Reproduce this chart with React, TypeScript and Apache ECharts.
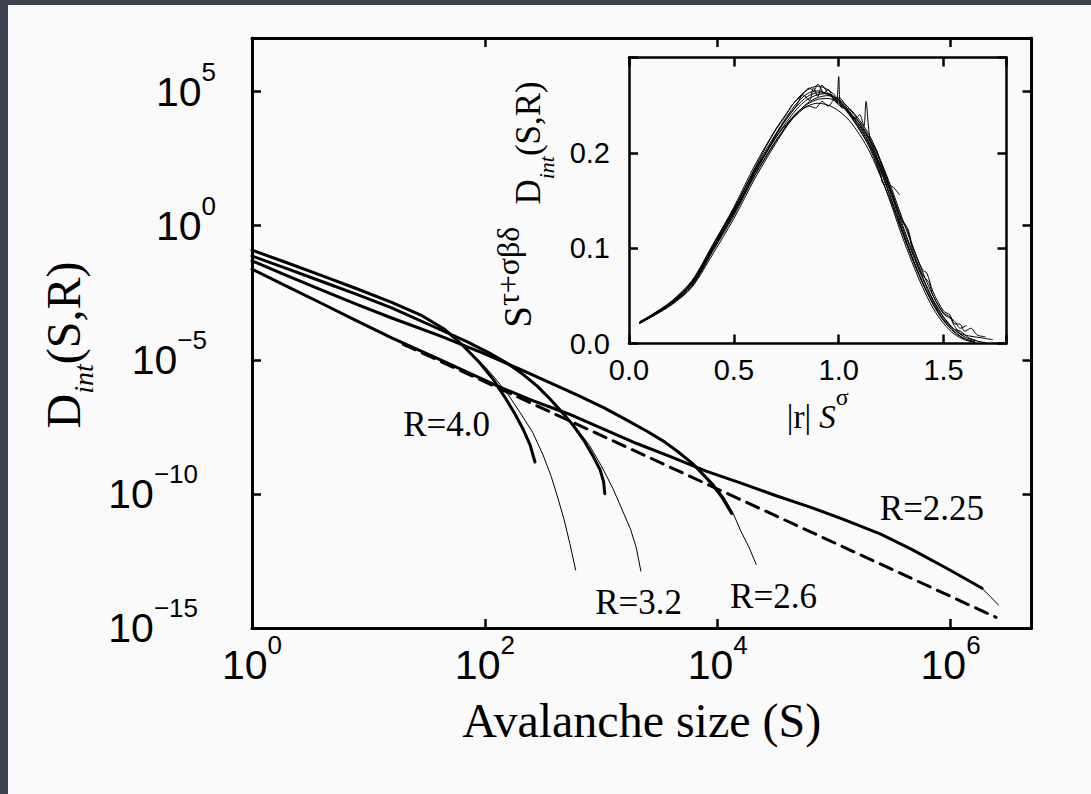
import React, { useEffect, useRef } from 'react';
import * as echarts from 'echarts';

const SERIF = '"Liberation Serif", "Times New Roman", Times, serif';
const SANS = '"Liberation Sans", Arial, Helvetica, sans-serif';

// ---------- main plot: [log10 S, log10 D_int] ----------
const r40Thick: number[][] = [[0, -0.91], [0.3, -1.38], [0.6, -1.86], [0.9, -2.35], [1.2, -2.86], [1.45, -3.33], [1.65, -3.85], [1.8, -4.42], [1.95, -5.08], [2.07, -5.72], [2.17, -6.38], [2.26, -7.03], [2.33, -7.6], [2.39, -8.19], [2.43, -8.81]];
const r40Thin: number[][] = [[1.9, -4.85], [2.0, -5.25], [2.1, -5.75], [2.2, -6.3], [2.3, -6.95], [2.41, -7.7], [2.5, -8.55], [2.57, -9.35], [2.62, -10.05], [2.68, -10.95], [2.73, -11.85], [2.78, -12.84]];
const r32Thick: number[][] = [[0, -1.13], [0.3, -1.6], [0.6, -2.08], [0.9, -2.56], [1.2, -3.06], [1.61, -3.86], [1.85, -4.33], [2.04, -4.75], [2.2, -5.15], [2.33, -5.55], [2.45, -5.98], [2.56, -6.46], [2.66, -6.95], [2.76, -7.45], [2.85, -8.0], [2.93, -8.6], [2.99, -9.1], [3.02, -9.55], [3.03, -9.99]];
const r32Thin: number[][] = [[2.4, -5.8], [2.6, -6.6], [2.76, -7.4], [2.9, -8.2], [3.0, -8.95], [3.1, -9.8], [3.18, -10.6], [3.25, -11.3], [3.3, -12.0], [3.34, -12.88]];
const r26Thick: number[][] = [[0, -1.31], [0.3, -1.86], [0.6, -2.4], [0.9, -2.93], [1.2, -3.44], [1.61, -4.1], [2.0, -4.78], [2.3, -5.35], [2.6, -5.93], [2.8, -6.33], [3.02, -6.78], [3.2, -7.2], [3.4, -7.68], [3.54, -8.05], [3.65, -8.4], [3.78, -8.85], [3.88, -9.3], [3.96, -9.68], [4.04, -10.15], [4.12, -10.73]];
const r26Thin: number[][] = [[3.8, -8.9], [3.95, -9.55], [4.05, -10.1], [4.13, -10.7], [4.2, -11.4], [4.27, -12.0], [4.33, -12.63]];
const r225Thick: number[][] = [[0, -1.62], [0.3, -2.26], [0.6, -2.9], [0.9, -3.55], [1.2, -4.18], [1.61, -4.98], [1.9, -5.56], [2.13, -6.02], [2.4, -6.5], [2.72, -7.02], [3.0, -7.55], [3.31, -8.13], [3.6, -8.62], [3.9, -9.15], [4.2, -9.6], [4.49, -10.05], [4.8, -10.5], [5.08, -10.95], [5.4, -11.5], [5.67, -12.08], [5.97, -12.78], [6.15, -13.22], [6.27, -13.52]];
const r225Thin: number[][] = [[6.27, -13.52], [6.34, -13.82], [6.41, -14.14]];
const powerLaw: number[][] = [[1.3, -4.42], [6.39, -14.6]];

const rLabelNames = ['R=4.0', 'R=3.2', 'R=2.6', 'R=2.25'];
const rLabelLogS = [1.672, 3.32, 4.479, 5.84];
const rLabelLogD = [-7.4, -14.05, -13.83, -10.54];

const mainXTicks = [0, 2, 4, 6];
const mainYTicks = [-15, -10, -5, 0, 5];
const insetXTicks = [0, 0.5, 1, 1.5];
const insetYTicks = [0, 0.1, 0.2];

// ---------- inset: [|r| S^sigma, S^(tau+sigma beta delta) D_int] ----------
const inset1: number[][] = [[0.05, 0.022], [0.1, 0.029], [0.2, 0.044], [0.3, 0.066], [0.4, 0.104], [0.5, 0.143], [0.6, 0.187], [0.7, 0.225], [0.75, 0.241], [0.8, 0.256], [0.85, 0.266], [0.9, 0.27], [0.95, 0.266], [1.0, 0.256], [1.05, 0.241], [1.1, 0.224], [1.15, 0.204], [1.2, 0.176], [1.25, 0.146], [1.3, 0.114], [1.35, 0.085], [1.4, 0.059], [1.45, 0.037], [1.5, 0.021], [1.55, 0.01], [1.6, 0.004], [1.65, 0.001]];
const inset2: number[][] = [[0.05, 0.021], [0.1, 0.027], [0.2, 0.041], [0.3, 0.06], [0.4, 0.097], [0.5, 0.134], [0.6, 0.176], [0.7, 0.212], [0.75, 0.228], [0.8, 0.242], [0.85, 0.251], [0.9, 0.256], [0.95, 0.257], [1.0, 0.252], [1.05, 0.242], [1.1, 0.229], [1.15, 0.212], [1.2, 0.186], [1.25, 0.158], [1.3, 0.127], [1.35, 0.097], [1.4, 0.07], [1.45, 0.046], [1.5, 0.028], [1.55, 0.015], [1.6, 0.007], [1.65, 0.003], [1.7, 0.001]];
const inset3: number[][] = [[0.05, 0.022], [0.1, 0.028], [0.15, 0.035], [0.2, 0.043], [0.25, 0.052], [0.3, 0.063], [0.35, 0.079], [0.4, 0.101], [0.45, 0.118], [0.5, 0.139], [0.55, 0.158], [0.6, 0.181], [0.65, 0.199], [0.7, 0.219], [0.75, 0.236], [0.8, 0.25], [0.83, 0.261], [0.86, 0.255], [0.88, 0.268], [0.9, 0.259], [0.92, 0.271], [0.95, 0.262], [0.98, 0.256], [0.99, 0.252], [1.0, 0.28], [1.01, 0.248], [1.05, 0.246], [1.1, 0.231], [1.15, 0.212], [1.2, 0.185], [1.25, 0.156], [1.3, 0.124], [1.35, 0.095], [1.4, 0.068], [1.45, 0.045], [1.5, 0.027], [1.55, 0.015], [1.6, 0.007]];
const inset4: number[][] = [[0.05, 0.021], [0.1, 0.027], [0.2, 0.04], [0.3, 0.059], [0.4, 0.094], [0.5, 0.131], [0.6, 0.173], [0.7, 0.21], [0.75, 0.227], [0.8, 0.241], [0.85, 0.252], [0.9, 0.258], [0.95, 0.26], [1.0, 0.256], [1.05, 0.247], [1.1, 0.234], [1.15, 0.217], [1.2, 0.192], [1.25, 0.164], [1.3, 0.133], [1.35, 0.103], [1.4, 0.075], [1.45, 0.05], [1.5, 0.031], [1.55, 0.024], [1.58, 0.016], [1.61, 0.019]];
const inset5: number[][] = [[0.05, 0.022], [0.1, 0.028], [0.2, 0.042], [0.3, 0.062], [0.4, 0.099], [0.5, 0.137], [0.6, 0.179], [0.7, 0.216], [0.75, 0.232], [0.8, 0.246], [0.85, 0.256], [0.9, 0.261], [0.95, 0.262], [1.0, 0.255], [1.05, 0.244], [1.08, 0.236], [1.1, 0.24], [1.12, 0.228], [1.13, 0.254], [1.15, 0.214], [1.18, 0.203], [1.2, 0.189], [1.25, 0.16], [1.3, 0.129], [1.33, 0.118], [1.35, 0.1], [1.4, 0.072], [1.43, 0.064], [1.45, 0.05], [1.5, 0.032], [1.53, 0.028], [1.55, 0.019], [1.58, 0.011], [1.62, 0.008], [1.68, 0.006], [1.735, 0.004]];
const inset6: number[][] = [[0.05, 0.022], [0.1, 0.028], [0.2, 0.043], [0.3, 0.064], [0.4, 0.102], [0.5, 0.14], [0.6, 0.183], [0.7, 0.22], [0.75, 0.237], [0.8, 0.252], [0.85, 0.262], [0.9, 0.265], [0.95, 0.261], [1.0, 0.253], [1.05, 0.24], [1.1, 0.224], [1.15, 0.206], [1.2, 0.178], [1.21, 0.168], [1.24, 0.166], [1.26, 0.164], [1.29, 0.156]];
const inset7: number[][] = [[0.05, 0.021], [0.1, 0.028], [0.2, 0.043], [0.3, 0.065], [0.4, 0.103], [0.5, 0.141], [0.6, 0.182], [0.7, 0.216], [0.75, 0.23], [0.8, 0.242], [0.85, 0.249], [0.9, 0.252], [0.95, 0.25], [1.0, 0.244], [1.05, 0.234], [1.1, 0.219], [1.15, 0.2], [1.2, 0.175], [1.25, 0.148], [1.3, 0.118], [1.35, 0.089], [1.4, 0.063], [1.45, 0.041], [1.5, 0.024], [1.55, 0.012], [1.6, 0.005], [1.65, 0.002]];
const inset8: number[][] = [[0.05, 0.023], [0.1, 0.029], [0.2, 0.043], [0.3, 0.064], [0.35, 0.082], [0.4, 0.1], [0.45, 0.121], [0.5, 0.141], [0.55, 0.162], [0.6, 0.184], [0.65, 0.205], [0.7, 0.224], [0.75, 0.24], [0.78, 0.251], [0.8, 0.255], [0.83, 0.262], [0.86, 0.268], [0.88, 0.265], [0.9, 0.272], [0.93, 0.263], [0.95, 0.266], [0.98, 0.255], [1.0, 0.258], [1.05, 0.243], [1.1, 0.228], [1.15, 0.209], [1.2, 0.183], [1.25, 0.152], [1.3, 0.121], [1.35, 0.091], [1.4, 0.064], [1.45, 0.043], [1.5, 0.025], [1.55, 0.015], [1.58, 0.013], [1.62, 0.006], [1.66, 0.003]];
const inset9: number[][] = [[0.05, 0.022], [0.1, 0.027], [0.2, 0.041], [0.3, 0.061], [0.4, 0.098], [0.5, 0.136], [0.6, 0.177], [0.7, 0.213], [0.73, 0.222], [0.76, 0.232], [0.8, 0.24], [0.83, 0.246], [0.86, 0.249], [0.89, 0.247], [0.92, 0.254], [0.95, 0.249], [0.98, 0.256], [1.0, 0.25], [1.03, 0.247], [1.06, 0.24], [1.1, 0.232], [1.15, 0.214], [1.2, 0.19], [1.25, 0.161], [1.28, 0.142], [1.3, 0.131], [1.33, 0.12], [1.35, 0.104], [1.4, 0.077], [1.42, 0.074], [1.45, 0.054], [1.5, 0.034], [1.53, 0.03], [1.55, 0.021], [1.58, 0.02], [1.6, 0.013], [1.63, 0.016], [1.66, 0.009], [1.7, 0.007]];
const inset10: number[][] = [[0.05, 0.022], [0.1, 0.028], [0.2, 0.042], [0.3, 0.063], [0.4, 0.1], [0.5, 0.138], [0.6, 0.18], [0.7, 0.218], [0.75, 0.235], [0.8, 0.249], [0.85, 0.259], [0.9, 0.263], [0.95, 0.262], [1.0, 0.254], [1.05, 0.242], [1.1, 0.226], [1.15, 0.208], [1.2, 0.181], [1.25, 0.151], [1.3, 0.12], [1.35, 0.09], [1.4, 0.064], [1.45, 0.041], [1.5, 0.024], [1.55, 0.013], [1.6, 0.005], [1.65, 0.0015]];
const insetCurves = [inset1, inset2, inset3, inset4, inset5, inset6, inset7, inset8, inset9, inset10];

const MINUS = '\u2212';
const supStyle = (right: number) => ({ fontSize: 26, fontFamily: SANS, color: '#000', padding: [0, right, 40, 0] });
const tickRich = { b: { fontSize: 41, fontFamily: SANS, color: '#000' }, s0: supStyle(0), s1: supStyle(9), s2: supStyle(18) };

function powLabel(v: number, ticks: number[]): string {
  if (!ticks.includes(v)) return '';
  const e = String(v).replace('-', MINUS);
  const k = e.length === 1 ? 's0' : e.length === 2 ? 's1' : 's2';
  return `{b|10}{${k}|${e}}`;
}

const axisBase = (extra: any) => ({
  splitLine: { show: false },
  axisLine: { onZero: false, lineStyle: { color: '#000', width: 3 } },
  axisTick: { inside: true, length: 9, lineStyle: { color: '#000', width: 2.5 } },
  ...extra,
});

function buildOption(): any {
  const mainLine = (data: number[][], width: number, dashed = false) => ({
    type: 'line', xAxisIndex: 0, yAxisIndex: 0, data, symbol: 'none', showSymbol: false,
    smooth: false, silent: true,
    lineStyle: { color: '#000', width, type: dashed ? [13, 8] : 'solid', cap: 'round', join: 'round' },
  });
  const series: any[] = [
    mainLine(r40Thin, 1), mainLine(r32Thin, 1), mainLine(r26Thin, 1), mainLine(r225Thin, 1),
    mainLine(powerLaw, 3, true),
    mainLine(r40Thick, 3), mainLine(r32Thick, 3), mainLine(r26Thick, 3), mainLine(r225Thick, 3),
    {
      type: 'scatter', xAxisIndex: 0, yAxisIndex: 0, symbol: 'circle', symbolSize: 0.01, silent: true,
      itemStyle: { color: '#fafafa', opacity: 1 },
      label: {
        show: true, position: 'inside', formatter: '{b}', fontSize: 35, fontFamily: SERIF,
        color: '#000', opacity: 1, textBorderWidth: 0,
      },
      data: rLabelNames.map((n, i) => ({ name: n, value: [rLabelLogS[i], rLabelLogD[i]] })),
    },
  ];
  insetCurves.forEach((c) => {
    series.push({
      type: 'line', xAxisIndex: 2, yAxisIndex: 2, data: c, symbol: 'none', showSymbol: false, silent: true,
      smooth: 0.3,
      lineStyle: { color: '#000', width: 1, join: 'round' },
    });
  });

  return {
    animation: false,
    backgroundColor: '#fafafa',
    grid: [
      { left: 244, top: 33, width: 779.5, height: 590 },
      { left: 621, top: 52.5, width: 377.5, height: 286 },
    ],
    xAxis: [
      axisBase({
        type: 'value', gridIndex: 0, position: 'bottom', min: 0, max: 6.695, interval: 2,
        axisLabel: { margin: 4, formatter: (v: number) => powLabel(v, mainXTicks), rich: tickRich },
        name: 'Avalanche size (S)', nameLocation: 'middle', nameGap: 68.5,
        nameTextStyle: { fontFamily: SERIF, fontSize: 48, color: '#000' },
      }),
      axisBase({
        type: 'value', gridIndex: 0, position: 'top', min: 0, max: 6.695, interval: 2,
        axisLabel: { show: false },
      }),
      axisBase({
        type: 'value', gridIndex: 1, position: 'bottom', min: 0, max: 1.8, interval: 0.5,
        axisLine: { onZero: false, lineStyle: { color: '#000', width: 2.5 } },
        axisLabel: {
          margin: 12, fontSize: 29, fontFamily: SANS, color: '#000',
          formatter: (v: number) => (insetXTicks.includes(v) ? v.toFixed(1) : ''),
        },
        name: '{a||r| }{b|S}{u|σ}', nameLocation: 'middle', nameGap: 36,
        nameTextStyle: {
          color: '#000',
          rich: {
            a: { fontSize: 33, fontFamily: SERIF, color: '#000' },
            b: { fontSize: 33, fontFamily: SERIF, fontStyle: 'italic', color: '#000' },
            u: { fontSize: 24, fontFamily: SERIF, color: '#000', padding: [0, 0, 40, 0] },
          },
        },
      }),
      axisBase({
        type: 'value', gridIndex: 1, position: 'top', min: 0, max: 1.8, interval: 0.5,
        axisLine: { onZero: false, lineStyle: { color: '#000', width: 2.5 } },
        axisLabel: { show: false },
      }),
    ],
    yAxis: [
      axisBase({
        type: 'value', gridIndex: 0, position: 'left', min: -15, max: 7, interval: 5,
        axisLabel: { margin: 36, formatter: (v: number) => powLabel(v, mainYTicks), rich: tickRich },
        name: '{d|D}{i|int}{p|(S,R)}', nameLocation: 'middle', nameRotate: 90, nameGap: 147,
        nameTextStyle: {
          color: '#000',
          rich: {
            d: { fontSize: 48, fontFamily: SERIF, color: '#000' },
            i: { fontSize: 28, fontFamily: SERIF, fontStyle: 'italic', color: '#000', padding: [40, 0, 0, 0] },
            p: { fontSize: 48, fontFamily: SERIF, color: '#000', padding: [0, 24, 0, 0] },
          },
        },
      }),
      axisBase({
        type: 'value', gridIndex: 0, position: 'right', min: -15, max: 7, interval: 5,
        axisLabel: { show: false },
      }),
      axisBase({
        type: 'value', gridIndex: 1, position: 'left', min: 0, max: 0.3, interval: 0.1,
        axisLine: { onZero: false, lineStyle: { color: '#000', width: 2.5 } },
        axisLabel: {
          margin: 19, fontSize: 29, fontFamily: SANS, color: '#000',
          formatter: (v: number) => (insetYTicks.some((t) => Math.abs(t - v) < 1e-9) ? v.toFixed(1) : ''),
        },
        name: '{s|S}{u|τ+σβδ}{d|D}{i|int}{p|(S,R)}', nameLocation: 'middle', nameRotate: 90, nameGap: 64,
        nameTextStyle: {
          color: '#000',
          rich: {
            s: { fontSize: 39, fontFamily: SERIF, color: '#000', padding: [0, 0, 22, 0] },
            u: { fontSize: 32, fontFamily: SERIF, color: '#000', padding: [0, 22, 41, 0] },
            d: { fontSize: 35, fontFamily: SERIF, color: '#000' },
            i: { fontSize: 22, fontFamily: SERIF, fontStyle: 'italic', color: '#000', padding: [35, 0, 0, 0] },
            p: { fontSize: 35, fontFamily: SERIF, color: '#000', padding: [0, 8, 0, 0] },
          },
        },
      }),
      axisBase({
        type: 'value', gridIndex: 1, position: 'right', min: 0, max: 0.3, interval: 0.1,
        axisLine: { onZero: false, lineStyle: { color: '#000', width: 2.5 } },
        axisLabel: { show: false },
      }),
    ],
    series,
  };
}

export default function App() {
  const ref = useRef<HTMLDivElement>(null);
  useEffect(() => {
    if (!ref.current) return;
    const chart = echarts.init(ref.current, null, { renderer: 'svg' });
    chart.setOption(buildOption());
    return () => chart.dispose();
  }, []);
  return (
    <div style={{ position: 'fixed', left: 0, top: 0, width: 1091, height: 794, background: '#3e4351' }}>
      <div ref={ref} style={{ position: 'absolute', left: 8, top: 5, width: 1083, height: 789 }} />
    </div>
  );
}
